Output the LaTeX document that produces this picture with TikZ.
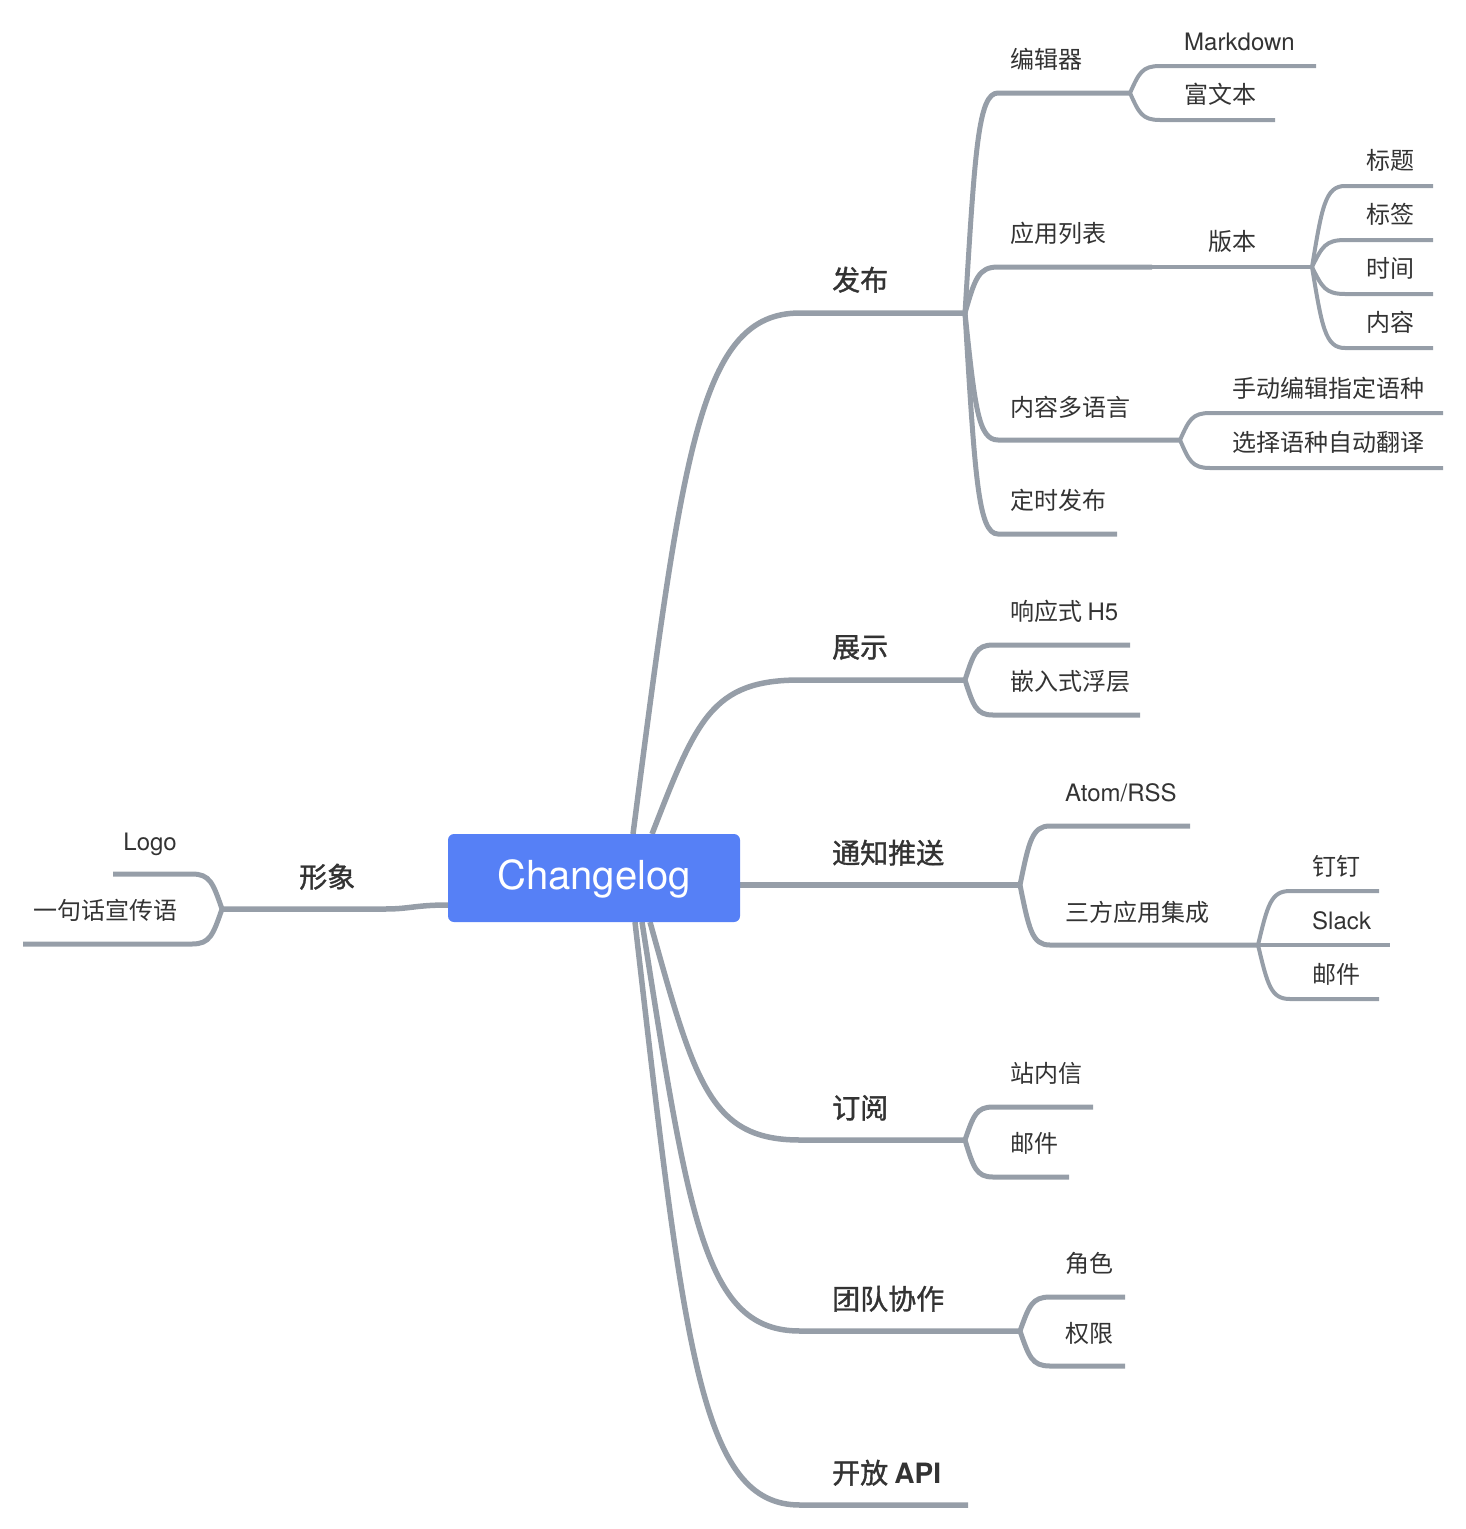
\documentclass[tikz,border=0pt]{standalone}
\usepackage{fontspec}
\setmainfont{TeX Gyre Heros}
\newfontfamily\cjk{Noto Sans CJK SC}
\newfontfamily\cjkm{Noto Sans CJK SC}[FakeBold=1.2]
\usetikzlibrary{calc}
\definecolor{linec}{HTML}{969EA8}
\definecolor{rootc}{HTML}{5680F6}
\definecolor{txtc}{HTML}{333333}
\newcommand\lat[1]{{\rmfamily #1}}
\begin{document}
\begin{tikzpicture}[x=1pt,y=-1pt,
  mmcurve/.style={to path={let \p1=(\tikztostart), \p2=(\tikztotarget) in .. controls ({\x1+0.3*(\x2-\x1)},{\y1+0.74*(\y2-\y1)}) and ({\x1+0.4*(\x2-\x1)},{\y2}) .. (\tikztotarget)}},
  mainl/.style={draw=linec,line width=5.5pt},
  subl/.style={draw=linec,line width=5pt},
  leafl/.style={draw=linec,line width=4pt},
  lvone/.style={inner sep=0pt,anchor=west,text=txtc,text height=20.7pt,text depth=0pt,font=\cjkm\fontsize{28}{30}\selectfont},
  lvtwo/.style={inner sep=0pt,anchor=west,text=txtc,text height=17.8pt,text depth=0pt,font=\cjk\fontsize{24}{26}\selectfont},
  rootbox/.style={fill=rootc,rounded corners=6pt,minimum width=292pt,minimum height=88pt,inner sep=0pt,text=white,text height=28.8pt,text depth=5pt,font=\fontsize{40}{48}\selectfont}
]
\useasboundingbox (0,0) rectangle (1465,1529);

% ---------- coordinates ----------
\coordinate (r-fb) at (633,834);
\coordinate (r-zs) at (652,834);
\coordinate (r-tz) at (740,885);
\coordinate (r-dy) at (650,922);
\coordinate (r-td) at (642,922);
\coordinate (r-api) at (635,922);
\coordinate (r-xx) at (448,905);

\coordinate (fb-b) at (800,313);   \coordinate (fb-j) at (965,313);
\coordinate (zs-b) at (800,680);   \coordinate (zs-j) at (965,680);
\coordinate (tz-j) at (1020,885);
\coordinate (dy-b) at (800,1140);  \coordinate (dy-j) at (965,1140);
\coordinate (td-b) at (800,1331);  \coordinate (td-j) at (1020,1331);
\coordinate (api-b) at (800,1505); \coordinate (api-e) at (968,1505);
\coordinate (xx-m) at (385,909);   \coordinate (xx-j) at (222,909);

\coordinate (bjq-b) at (998,93);   \coordinate (bjq-j) at (1130,93);
\coordinate (yy-b) at (998,267);   \coordinate (yy-m) at (1152,267);  \coordinate (bb-j) at (1312,267);
\coordinate (nr-b) at (998,440);   \coordinate (nr-j) at (1180,440);
\coordinate (ds-b) at (998,534);   \coordinate (ds-e) at (1117,534);

\coordinate (md-b) at (1160,66);   \coordinate (md-e) at (1316,66);
\coordinate (fwb-b) at (1160,120); \coordinate (fwb-e) at (1275,120);
\coordinate (bt-b) at (1345,186);  \coordinate (bt-e) at (1433,186);
\coordinate (bq-b) at (1345,240);  \coordinate (bq-e) at (1433,240);
\coordinate (sj-b) at (1345,294);  \coordinate (sj-e) at (1433,294);
\coordinate (nn-b) at (1345,348);  \coordinate (nn-e) at (1433,348);
\coordinate (sd-b) at (1210,413);  \coordinate (sd-e) at (1443,413);
\coordinate (xz-b) at (1210,468);  \coordinate (xz-e) at (1443,468);

\coordinate (h5-b) at (993,645);   \coordinate (h5-e) at (1130,645);
\coordinate (qr-b) at (993,715);   \coordinate (qr-e) at (1140,715);

\coordinate (at-b) at (1050,826);  \coordinate (at-e) at (1190,826);
\coordinate (sf-b) at (1050,945);  \coordinate (sf-j) at (1258,945);
\coordinate (dd-b) at (1290,891);  \coordinate (dd-e) at (1379,891);
\coordinate (sl-e) at (1390,945);
\coordinate (yj-b) at (1290,999);  \coordinate (yj-e) at (1379,999);

\coordinate (zn-b) at (993,1107);  \coordinate (zn-e) at (1093,1107);
\coordinate (ym-b) at (993,1177);  \coordinate (ym-e) at (1069,1177);

\coordinate (js-b) at (1050,1297); \coordinate (js-e) at (1125,1297);
\coordinate (qx-b) at (1050,1366); \coordinate (qx-e) at (1125,1366);

\coordinate (lg-b) at (192,874);   \coordinate (lg-e) at (113,874);
\coordinate (sg-b) at (192,944);   \coordinate (sg-e) at (23,944);

% ---------- main branches ----------
\draw[mainl] (r-fb) to[mmcurve] (fb-b) -- (fb-j);
\draw[mainl] (r-zs) to[mmcurve] (zs-b) -- (zs-j);
\draw[mainl] (r-tz) -- (tz-j);
\draw[mainl] (r-dy) to[mmcurve] (dy-b) -- (dy-j);
\draw[mainl] (r-td) to[mmcurve] (td-b) -- (td-j);
\draw[mainl] (r-api) to[mmcurve] (api-b) -- (api-e);
\draw[mainl] (r-xx) .. controls (415,905) and (410,909) .. (xx-m) -- (xx-j);

% ---------- level 2 ----------
\draw[subl] (fb-j) to[mmcurve] (bjq-b) -- (bjq-j);
\draw[subl] (fb-j) to[mmcurve] (yy-b) -- (yy-m);
\draw[subl] (fb-j) to[mmcurve] (nr-b) -- (nr-j);
\draw[subl] (fb-j) to[mmcurve] (ds-b) -- (ds-e);
\draw[subl] (zs-j) to[mmcurve] (h5-b) -- (h5-e);
\draw[subl] (zs-j) to[mmcurve] (qr-b) -- (qr-e);
\draw[subl] (tz-j) to[mmcurve] (at-b) -- (at-e);
\draw[subl] (tz-j) to[mmcurve] (sf-b) -- (sf-j);
\draw[subl] (dy-j) to[mmcurve] (zn-b) -- (zn-e);
\draw[subl] (dy-j) to[mmcurve] (ym-b) -- (ym-e);
\draw[subl] (td-j) to[mmcurve] (js-b) -- (js-e);
\draw[subl] (td-j) to[mmcurve] (qx-b) -- (qx-e);
\draw[subl] (xx-j) to[mmcurve] (lg-b) -- (lg-e);
\draw[subl] (xx-j) to[mmcurve] (sg-b) -- (sg-e);

% ---------- level 3+ ----------
\draw[leafl] (yy-m) -- (bb-j);
\draw[leafl] (bjq-j) to[mmcurve] (md-b) -- (md-e);
\draw[leafl] (bjq-j) to[mmcurve] (fwb-b) -- (fwb-e);
\draw[leafl] (bb-j) to[mmcurve] (bt-b) -- (bt-e);
\draw[leafl] (bb-j) to[mmcurve] (bq-b) -- (bq-e);
\draw[leafl] (bb-j) to[mmcurve] (sj-b) -- (sj-e);
\draw[leafl] (bb-j) to[mmcurve] (nn-b) -- (nn-e);
\draw[leafl] (nr-j) to[mmcurve] (sd-b) -- (sd-e);
\draw[leafl] (nr-j) to[mmcurve] (xz-b) -- (xz-e);
\draw[leafl] (sf-j) to[mmcurve] (dd-b) -- (dd-e);
\draw[leafl] (sf-j) -- (sl-e);
\draw[leafl] (sf-j) to[mmcurve] (yj-b) -- (yj-e);

% ---------- root ----------
\node[rootbox] (root) at (594,878) {Changelog};

% ---------- level 1 labels ----------
\node[lvone] (t-fb) at (832,280) {发布};
\node[lvone] (t-zs) at (832,647) {展示};
\node[lvone] (t-tz) at (832,853) {通知推送};
\node[lvone] (t-dy) at (832,1108) {订阅};
\node[lvone] (t-td) at (832,1299) {团队协作};
\node[lvone] (t-api) at (832,1473) {开放 {\rmfamily\bfseries API}};
\node[lvone] (t-xx) at (299,877) {形象};

% ---------- level 2/3 labels ----------
\node[lvtwo] (t-bjq) at (1010,60) {编辑器};
\node[lvtwo] (t-yy) at (1010,234) {应用列表};
\node[lvtwo] (t-nr) at (1010,408) {内容多语言};
\node[lvtwo] (t-ds) at (1010,501) {定时发布};
\node[lvtwo] (t-md) at (1184,42) {\lat{Markdown}};
\node[lvtwo] (t-fwb) at (1184,95) {富文本};
\node[lvtwo] (t-bb) at (1208,242) {版本};
\node[lvtwo] (t-bt) at (1366,161) {标题};
\node[lvtwo] (t-bq) at (1366,215) {标签};
\node[lvtwo] (t-sj) at (1366,269) {时间};
\node[lvtwo] (t-nn) at (1366,323) {内容};
\node[lvtwo] (t-sd) at (1232,389) {手动编辑指定语种};
\node[lvtwo] (t-xz) at (1232,443) {选择语种自动翻译};
\node[lvtwo] (t-h5) at (1010,612) {响应式 \lat{H5}};
\node[lvtwo] (t-qr) at (1010,682) {嵌入式浮层};
\node[lvtwo] (t-at) at (1065,793) {\lat{Atom/RSS}};
\node[lvtwo] (t-sf) at (1065,913) {三方应用集成};
\node[lvtwo] (t-dd) at (1312,867) {钉钉};
\node[lvtwo] (t-sl) at (1312,921) {\lat{Slack}};
\node[lvtwo] (t-yj) at (1312,975) {邮件};
\node[lvtwo] (t-zn) at (1010,1074) {站内信};
\node[lvtwo] (t-ym) at (1010,1144) {邮件};
\node[lvtwo] (t-js) at (1065,1264) {角色};
\node[lvtwo] (t-qx) at (1065,1334) {权限};
\node[lvtwo,anchor=east] (t-lg) at (177,842) {\lat{Logo}};
\node[lvtwo] (t-sg) at (33,911) {一句话宣传语};
\end{tikzpicture}
\end{document}
